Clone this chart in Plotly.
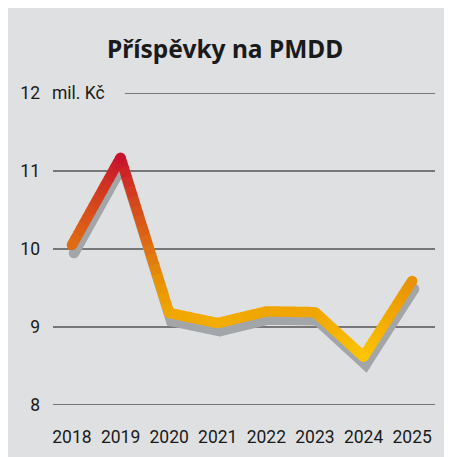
import plotly.graph_objects as go

# ---- data ----
years = [2018, 2019, 2020, 2021, 2022, 2023, 2024, 2025]
year_labels = ["2018", "2019", "2020", "2021", "2022", "2023", "2024", "2025"]
values = [10.05, 11.17, 9.18, 9.05, 9.20, 9.19, 8.62, 9.59]
y_ticks = [8, 9, 10, 11, 12]
y_tick_labels = ["8", "9", "10", "11", "12"]
title_text = "Příspěvky na PMDD"
unit_text = "mil. Kč"

# ---- layout constants (figure pixels; page body adds an 8px offset) ----
FIG_W, FIG_H = 452, 457
M_L, M_R, M_T, M_B = 45, 25, 85, 60
PW = FIG_W - M_L - M_R
PH = FIG_H - M_T - M_B
X_RANGE = [2017.61, 2025.47]
Y_RANGE = [8, 12]
LINE_W = 10.5
SHADOW_DX, SHADOW_DY = 2, 8  # px offset of the shadow
BG = "#dfe0e2"
TXT = "#1a1a1a"
GRID = "#555555"
SHADOW = "#a3a6a9"

# gradient colour stops keyed on value
stops = [(8.5, (255, 204, 0)), (9.2, (240, 165, 0)), (9.6, (232, 145, 5)),
         (10.0, (224, 112, 18)), (10.6, (212, 70, 28)), (11.2, (200, 16, 46))]


def col_at(v):
    if v <= stops[0][0]:
        c = stops[0][1]
    elif v >= stops[-1][0]:
        c = stops[-1][1]
    else:
        for (a, ca), (b, cb) in zip(stops[:-1], stops[1:]):
            if a <= v <= b:
                t = (v - a) / (b - a)
                c = tuple(ca[i] + (cb[i] - ca[i]) * t for i in range(3))
                break
    return "rgb(%d,%d,%d)" % tuple(round(x) for x in c)


fig = go.Figure()

# shadow on base axes (ranges shifted by pixel offset)
dx_units = SHADOW_DX * (X_RANGE[1] - X_RANGE[0]) / PW
dy_units = SHADOW_DY * (Y_RANGE[1] - Y_RANGE[0]) / PH
fig.add_trace(go.Scatter(x=years, y=values, mode="lines+markers",
                         line=dict(color=SHADOW, width=LINE_W),
                         marker=dict(color=SHADOW, size=LINE_W),
                         xaxis="x", yaxis="y", hoverinfo="skip", showlegend=False))

# gradient line on overlay axes: each segment split only for colouring
N = 16
for i in range(len(years) - 1):
    x0, x1 = years[i], years[i + 1]
    v0, v1 = values[i], values[i + 1]
    for k in range(N):
        t0, t1 = k / N, (k + 1) / N
        t1e = min(1.0, t1 + 0.01)
        xa, xb = x0 + (x1 - x0) * t0, x0 + (x1 - x0) * t1e
        ya, yb = v0 + (v1 - v0) * t0, v0 + (v1 - v0) * t1e
        fig.add_trace(go.Scatter(x=[xa, xb], y=[ya, yb], mode="lines",
                                 line=dict(color=col_at((ya + yb) / 2), width=LINE_W),
                                 xaxis="x2", yaxis="y2", hoverinfo="skip",
                                 showlegend=False))
fig.add_trace(go.Scatter(x=years, y=values, mode="markers",
                         marker=dict(color=[col_at(v) for v in values], size=LINE_W,
                                     line=dict(width=0)),
                         xaxis="x2", yaxis="y2", hoverinfo="skip", showlegend=False))

shapes = []
# gridlines
for v in y_ticks:
    x0 = (117 - M_L) / PW if v == y_ticks[-1] else 0
    shapes.append(dict(type="line", xref="paper", yref="y2", x0=x0, x1=1,
                       y0=v, y1=v, line=dict(color=GRID, width=1.5), layer="below"))

fig.update_layout(
    width=FIG_W, height=FIG_H,
    margin=dict(l=M_L, r=M_R, t=M_T, b=M_B, autoexpand=False),
    paper_bgcolor=BG, plot_bgcolor="rgba(0,0,0,0)",
    showlegend=False,
    shapes=shapes,
    xaxis=dict(range=[X_RANGE[0] - dx_units, X_RANGE[1] - dx_units], visible=False,
               fixedrange=True, automargin=False),
    yaxis=dict(range=[Y_RANGE[0] + dy_units, Y_RANGE[1] + dy_units], visible=False,
               fixedrange=True, automargin=False),
    xaxis2=dict(range=X_RANGE, overlaying="x", side="bottom", tickvals=years,
                ticktext=year_labels, showgrid=False, zeroline=False, showline=False,
                ticks="", ticklabelstandoff=19, automargin=False,
                tickfont=dict(family="Roboto", size=17.5, color=TXT)),
    yaxis2=dict(range=Y_RANGE, overlaying="y", side="left", tickvals=y_ticks,
                ticktext=y_tick_labels, showgrid=False, zeroline=False, showline=False,
                ticks="", ticklabelstandoff=12, automargin=False,
                tickfont=dict(family="Roboto", size=17.5, color=TXT)),
    annotations=[
        dict(text="<b>" + title_text + "</b>", xref="paper", yref="paper",
             x=(217 - M_L) / PW, y=(FIG_H - M_B - 40) / PH, xanchor="center",
             yanchor="middle", showarrow=False,
             font=dict(family="Noto Sans", size=24.5, color=TXT)),
        dict(text=unit_text, xref="paper", yref="y2", x=(42 - M_L) / PW, y=y_ticks[-1],
             xanchor="left", yanchor="middle", showarrow=False,
             font=dict(family="Roboto", size=17.5, color=TXT)),
    ],
)

fig.write_html("out.html")
